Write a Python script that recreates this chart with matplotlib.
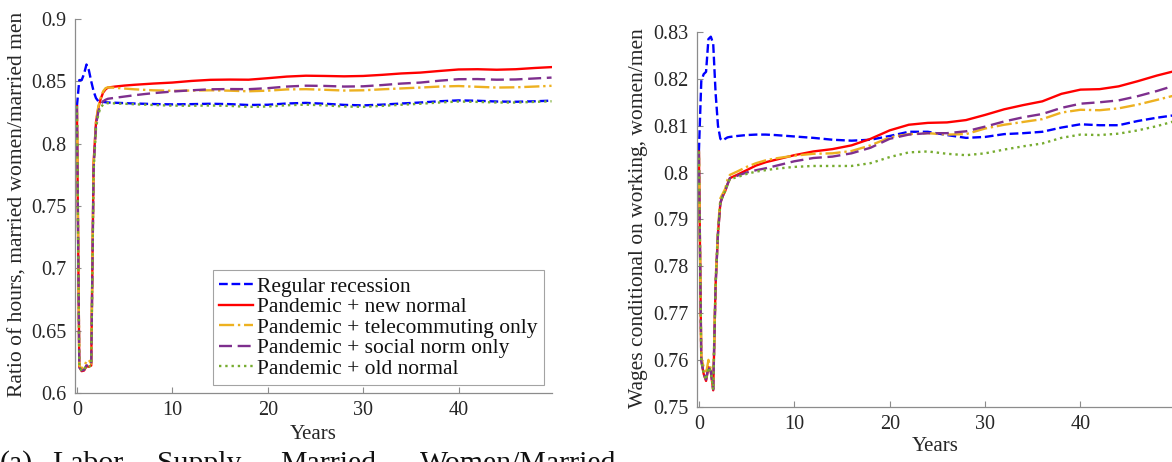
import matplotlib
matplotlib.use("Agg")
import matplotlib.pyplot as plt

plt.rcParams['font.family'] = ['Liberation Serif', 'DejaVu Serif']

# time grid (years), quarterly at the start then every 1-2 years
years = [0, 0.25, 0.5, 0.75, 1.0, 1.25, 1.5, 1.75, 2.0, 2.25, 2.5, 2.75, 3.0, 3.25,
         4, 5, 6, 7, 8, 10, 12, 14, 16, 18, 20, 22, 24, 26, 28, 30, 32, 34, 36, 38,
         40, 42, 44, 46, 48, 49.75]

labels = ['Regular recession', 'Pandemic + new normal', 'Pandemic + telecommuting only',
          'Pandemic + social norm only', 'Pandemic + old normal']

# panel (a): ratio of hours, married women / married men
hours_regular = [0.830, 0.851, 0.851, 0.856, 0.8635, 0.859, 0.850, 0.842, 0.8365, 0.834, 0.8335, 0.8335, 0.8332, 0.833,
                 0.8328, 0.8325, 0.8322, 0.832, 0.8318, 0.8315, 0.8317, 0.832, 0.8317, 0.831, 0.8312, 0.8322, 0.8327, 0.832,
                 0.8311, 0.8307, 0.8313, 0.8322, 0.833, 0.834, 0.8347, 0.8344, 0.8338, 0.8336, 0.834, 0.8345]
hours_new = [0.830, 0.621, 0.6175, 0.618, 0.6215, 0.621, 0.622, 0.785, 0.817, 0.829, 0.836, 0.841, 0.8435, 0.845,
             0.8458, 0.8466, 0.8472, 0.8477, 0.8482, 0.849, 0.8503, 0.8512, 0.8514, 0.8513, 0.8525, 0.8538, 0.8545, 0.8543,
             0.854, 0.8543, 0.8552, 0.8563, 0.857, 0.8583, 0.8595, 0.8597, 0.8593, 0.8597, 0.8607, 0.8614]
hours_tele = [0.830, 0.622, 0.6195, 0.621, 0.6255, 0.6265, 0.6235, 0.783, 0.818, 0.830, 0.837, 0.842, 0.8445, 0.8452,
              0.8448, 0.8442, 0.8436, 0.8432, 0.8428, 0.8424, 0.8426, 0.8428, 0.8425, 0.842, 0.8425, 0.8435, 0.8437, 0.8432,
              0.8426, 0.8428, 0.8436, 0.8443, 0.845, 0.8458, 0.8462, 0.8456, 0.845, 0.8452, 0.8458, 0.8464]
hours_norm = [0.830, 0.6205, 0.618, 0.6185, 0.6222, 0.6215, 0.6222, 0.780, 0.815, 0.826, 0.8315, 0.834, 0.8352, 0.836,
              0.8368, 0.8378, 0.8388, 0.8397, 0.8405, 0.8418, 0.8428, 0.8436, 0.8438, 0.8437, 0.8445, 0.8458, 0.8465, 0.8463,
              0.8458, 0.846, 0.847, 0.8482, 0.849, 0.8505, 0.8517, 0.8518, 0.8513, 0.8515, 0.8523, 0.853]
hours_old = [0.830, 0.6205, 0.6178, 0.6183, 0.622, 0.6213, 0.622, 0.778, 0.812, 0.824, 0.829, 0.8315, 0.8322, 0.8325,
             0.8323, 0.832, 0.8316, 0.8313, 0.831, 0.8305, 0.8304, 0.8306, 0.8303, 0.8295, 0.8298, 0.8308, 0.8313, 0.8307,
             0.8298, 0.8295, 0.8303, 0.8312, 0.832, 0.833, 0.8338, 0.8335, 0.833, 0.833, 0.8335, 0.834]

# panel (b): wages conditional on working, women / men
wage_regular = [0.8045, 0.8195, 0.821, 0.8215, 0.8285, 0.829, 0.8275, 0.817, 0.810, 0.8072, 0.8068, 0.8072, 0.8075, 0.8076,
                0.8078, 0.808, 0.8081, 0.8081, 0.808, 0.8077, 0.8074, 0.807, 0.8068, 0.807, 0.8078, 0.8087, 0.8087, 0.808,
                0.8074, 0.8076, 0.8082, 0.8084, 0.8087, 0.8096, 0.8103, 0.8101, 0.8101, 0.811, 0.8117, 0.8122]
wage_new = [0.8045, 0.760, 0.757, 0.7555, 0.7585, 0.7575, 0.7535, 0.776, 0.787, 0.7935, 0.795, 0.796, 0.7975, 0.7988,
            0.7995, 0.8005, 0.8015, 0.8022, 0.8027, 0.8037, 0.8045, 0.805, 0.8058, 0.8072, 0.809, 0.8102, 0.8106, 0.8107,
            0.8112, 0.8123, 0.8135, 0.8144, 0.8152, 0.8168, 0.8177, 0.8178, 0.8184, 0.8195, 0.8207, 0.8216]
wage_tele = [0.8045, 0.7605, 0.7585, 0.757, 0.760, 0.758, 0.7545, 0.777, 0.788, 0.7945, 0.7955, 0.7965, 0.7985, 0.7995,
             0.8002, 0.8012, 0.802, 0.8026, 0.803, 0.8036, 0.804, 0.8041, 0.8046, 0.8058, 0.8075, 0.8082, 0.8084, 0.8081,
             0.8082, 0.8094, 0.8102, 0.8108, 0.8114, 0.8128, 0.8134, 0.8133, 0.8137, 0.8145, 0.8155, 0.8164]
wage_norm = [0.8045, 0.7598, 0.757, 0.7558, 0.7585, 0.7575, 0.7537, 0.776, 0.787, 0.7935, 0.795, 0.796, 0.7975, 0.7988,
             0.7993, 0.800, 0.8005, 0.8009, 0.8014, 0.8024, 0.8031, 0.8034, 0.8041, 0.8053, 0.8072, 0.8081, 0.8084, 0.8084,
             0.8088, 0.8098, 0.8109, 0.8118, 0.8125, 0.8138, 0.8147, 0.815, 0.8154, 0.8163, 0.8174, 0.8185]
wage_old = [0.8045, 0.7598, 0.757, 0.7557, 0.7584, 0.7576, 0.7536, 0.776, 0.787, 0.7935, 0.795, 0.796, 0.7974, 0.7986,
            0.799, 0.7997, 0.8002, 0.8005, 0.8008, 0.8012, 0.8014, 0.8014, 0.8014, 0.802, 0.8033, 0.8043, 0.8045, 0.804,
            0.8037, 0.8041, 0.8049, 0.8056, 0.8062, 0.8074, 0.8081, 0.808, 0.8083, 0.809, 0.8099, 0.8109]

# caption words (the caption is cut off by the bottom edge in the original)
caption_words = ['(a)', 'Labor', 'Supply,', 'Married', 'Women/Married']

colors = ['#0000ff', '#ff0000', '#edb120', '#7e2f8e', '#77ac30']
styles = ['--', '-', '-.', (0, (5.5, 2.4)), ':']

fig = plt.figure(figsize=(11.72, 4.62), dpi=100)
ax1 = fig.add_axes([0.0640, 0.1494, 0.4070, 0.8095])
ax2 = fig.add_axes([0.5947, 0.1197, 0.4070, 0.8110])

hours = [hours_regular, hours_new, hours_tele, hours_norm, hours_old]
wages = [wage_regular, wage_new, wage_tele, wage_norm, wage_old]

for s, c, ls, lab in zip(hours, colors, styles, labels):
    ax1.plot(years, s, color=c, linestyle=ls, linewidth=1.7, label=lab)
for s, c, ls, lab in zip(wages, colors, styles, labels):
    ax2.plot(years, s, color=c, linestyle=ls, linewidth=1.7, label=lab)

ax1.set_ylim(0.6, 0.9)
ax1.set_yticks([0.6, 0.65, 0.7, 0.75, 0.8, 0.85, 0.9])
ax1.set_yticklabels(['0.6', '0.65', '0.7', '0.75', '0.8', '0.85', '0.9'])
ax2.set_ylim(0.75, 0.83)
ax2.set_yticks([0.75, 0.76, 0.77, 0.78, 0.79, 0.8, 0.81, 0.82, 0.83])
ax2.set_yticklabels(['0.75', '0.76', '0.77', '0.78', '0.79', '0.8', '0.81', '0.82', '0.83'])

for ax in [ax1, ax2]:
    ax.set_xlim(-0.2, 49.8)
    ax.set_xticks([0, 10, 20, 30, 40])
    ax.spines['top'].set_visible(False)
    ax.spines['right'].set_visible(False)
    for sp in ['left', 'bottom']:
        ax.spines[sp].set_color('#8c8c8c')
        ax.spines[sp].set_linewidth(0.9)
    ax.tick_params(direction='in', length=4, width=0.8, color='#8c8c8c',
                   labelsize=14.5, labelcolor='#262626', pad=6)
    ax.set_xlabel('Years', fontsize=15, color='#262626')

ax1.set_ylabel('Ratio of hours, married women/married men', fontsize=15.5, color='#262626')
ax2.set_ylabel('Wages conditional on working, women/men', fontsize=15.5, color='#262626')
ax1.yaxis.set_label_coords(-0.100, 0.503)
ax2.yaxis.set_label_coords(-0.103, 0.504)
ax1.xaxis.set_label_coords(0.5, -0.085)
ax2.xaxis.set_label_coords(0.5, -0.081)

leg = ax1.legend(loc='lower right', bbox_to_anchor=(0.983, 0.021), borderaxespad=0,
                 fontsize=15.5, frameon=True, fancybox=False, handlelength=1.55,
                 handletextpad=0.2, labelspacing=0.02, borderpad=0.3)
leg.get_frame().set_edgecolor('#8c8c8c')
leg.get_frame().set_linewidth(0.8)
for t in leg.get_texts():
    t.set_color('#111111')

# justified caption: place each word
caption_x = [0, 52, 157, 280, 420]
for w, xp in zip(caption_words, caption_x):
    fig.text(xp / 1172, -0.0195, w, fontsize=21.5, color='#111111', ha='left', va='baseline')

fig.savefig('out.png', dpi=100)
